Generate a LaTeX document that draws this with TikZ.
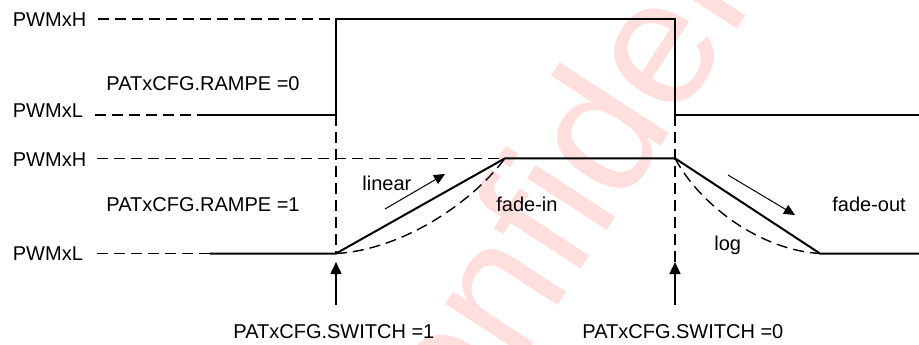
\documentclass[tikz,border=0pt]{standalone}
\usepackage{fontspec}
\setmainfont{Liberation Sans}
\usetikzlibrary{arrows.meta}
\begin{document}
\begin{tikzpicture}[x=0.5pt,y=-0.5pt,font=\fontsize{10}{12}\selectfont,
    wave/.style={line width=1pt},
    guide/.style={line width=0.7pt,dash pattern=on 5.5pt off 3pt},
    tag/.style={inner sep=0pt,anchor=base west},
    trig/.style={line width=0.8pt,-{Triangle[length=6pt,width=5.5pt]}},
    hint/.style={line width=0.5pt,-{Triangle[length=5.5pt,width=5pt]}}]
\useasboundingbox (0,0) rectangle (919,344);
\node[text=red!13,rotate=57,inner sep=0pt,font=\fontsize{90}{92}\selectfont] (stamp) at (598,126) {Confidential};

\node[tag] (h1) at (12.5,26.7) {PWMxH};
\node[tag] (l1) at (12.5,117.3) {PWMxL};
\node[tag] (h2) at (12.5,166.7) {PWMxH};
\node[tag] (l2) at (12.5,260.7) {PWMxL};
\node[tag] (rampe0) at (106,90) {PATxCFG.RAMPE =0};
\node[tag] (rampe1) at (106,211.7) {PATxCFG.RAMPE =1};
\node[tag] (lin) at (362,190) {linear};
\node[tag] (fin) at (496,211.7) {fade-in};
\node[tag] (fout) at (832,211.7) {fade-out};
\node[tag] (lg) at (714,250) {log};
\node[tag] (sw1) at (233,338.3) {PATxCFG.SWITCH =1};
\node[tag] (sw0) at (582,338.3) {PATxCFG.SWITCH =0};

\coordinate (rise) at (336,115);
\coordinate (fall) at (675,115);
\coordinate (rampin) at (336,253.5);
\coordinate (topin) at (505,158.3);
\coordinate (rampout) at (675,158.3);
\coordinate (endout) at (820,253.5);

% RAMPE =0
\draw[guide] (98,19) -- (336,19);
\draw[guide] (95,115) -- (200,115);
\draw[wave] (200,115) -- (rise) -- (336,19) -- (675,19) -- (fall) -- (919,115);

% RAMPE =1
\draw[guide] (97,158.3) -- (topin);
\draw[guide] (97,253.5) -- (210,253.5);
\draw[wave] (210,253.5) -- (rampin) -- (topin) -- (rampout) -- (endout) -- (919,253.5);
\draw[guide] (rampin) .. controls (400,250) and (470,205) .. (topin);
\draw[guide] (rampout) .. controls (700,205) and (760,250) .. (endout);
\draw[guide] (rise) -- (rampin);
\draw[guide] (fall) -- (675,262);

\coordinate (foot1) at (336,305);
\coordinate (tip1) at (336,262);
\coordinate (foot0) at (675,305);
\coordinate (tip0) at (675,262);
\draw[trig] (foot1) -- (tip1);
\draw[trig] (foot0) -- (tip0);

\coordinate (linA) at (385,209);
\coordinate (linB) at (445,174);
\coordinate (outA) at (728,175);
\coordinate (outB) at (795,215);
\draw[hint] (linA) -- (linB);
\draw[hint] (outA) -- (outB);

\end{tikzpicture}
\end{document}
